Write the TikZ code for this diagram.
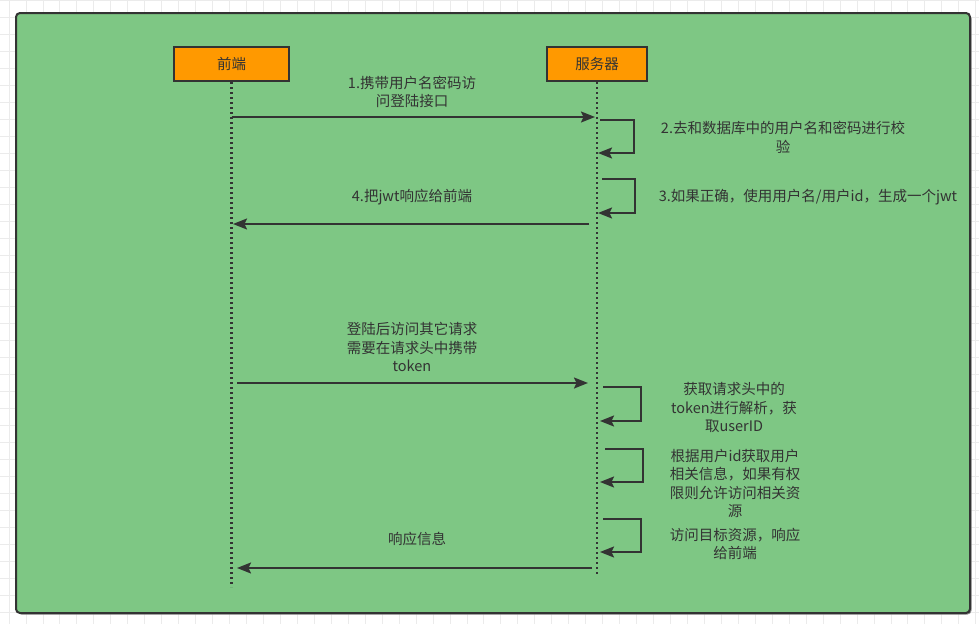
\documentclass[tikz,border=0pt]{standalone}
\usepackage{fontspec}
\setmainfont{Noto Sans CJK SC}
\usetikzlibrary{arrows.meta}
\definecolor{bggreen}{HTML}{7EC784}
\definecolor{orng}{HTML}{FF9900}
\definecolor{ink}{HTML}{333333}
\definecolor{gridc}{HTML}{EBEBEB}
\begin{document}
\begin{tikzpicture}[x=1pt,y=-1pt,
  font=\fontsize{14.5}{18.5}\selectfont,
  actor/.style={draw=ink, fill=orng, line width=2pt, minimum height=34pt, inner sep=0pt, text=ink},
  lifeline/.style={draw=ink, line width=2.2pt, dash pattern=on 2pt off 3pt},
  msg/.style={draw=ink, line width=1.9pt, -{Stealth[length=14pt,width=11pt,inset=2.5pt]}},
  lbl/.style={align=center, text=ink, inner sep=0pt}]
\useasboundingbox (0,0) rectangle (979,624);
% background grid
\foreach \i in {0,...,57} \draw[gridc, line width=0.8pt] ({9+16.96*\i},0) -- ({9+16.96*\i},624);
\foreach \j in {0,...,36} \draw[gridc, line width=0.8pt] (0,{17*\j}) -- (979,{17*\j});
% container
\fill[black!45, rounded corners=4pt] (17.5,14.5) rectangle (971.5,614.5);
\draw[fill=bggreen, draw=ink, line width=2pt, rounded corners=4pt] (16,13) rectangle (970,613);
% actors
\node[actor, minimum width=115pt] (fe) at (231.5,64) {前端};
\node[actor, minimum width=100pt] (sv) at (597,64) {服务器};
\coordinate (feEnd) at (231.5,587);
\coordinate (svEnd) at (597,575);
\draw[lifeline] (fe.south) -- (feEnd);
\draw[lifeline] (sv.south) -- (svEnd);
% message 1
\coordinate (m1a) at (231.5,117); \coordinate (m1b) at (595,117);
\draw[msg] (m1a) -- (m1b);
\node[lbl] (t1) at (412,92) {1.携带用户名密码访\\问登陆接口};
% self loop 2
\coordinate (s1a) at (600,120); \coordinate (s1b) at (598,153);
\draw[msg] (s1a) -- (634,120) -- (634,153) -- (s1b);
\node[lbl] (t2) at (783,137.5) {2.去和数据库中的用户名和密码进行校\\验};
% self loop 3
\coordinate (s2a) at (602,179); \coordinate (s2b) at (598,213);
\draw[msg] (s2a) -- (635,179) -- (635,213) -- (s2b);
\node[lbl] (t3) at (808,197) {3.如果正确，使用用户名/用户id，生成一个jwt};
% message 4
\coordinate (m4a) at (589,224); \coordinate (m4b) at (233,224);
\draw[msg] (m4a) -- (m4b);
\node[lbl] (t4) at (412,197) {4.把jwt响应给前端};
% token request
\coordinate (m5a) at (237,383); \coordinate (m5b) at (588,383);
\draw[msg] (m5a) -- (m5b);
\node[lbl] (t5) at (412,347) {登陆后访问其它请求\\需要在请求头中携带\\token};
% self loops
\coordinate (s3a) at (603,387); \coordinate (s3b) at (600,421);
\draw[msg] (s3a) -- (641,387) -- (641,421) -- (s3b);
\node[lbl] (t6) at (734,407.5) {获取请求头中的\\token进行解析，获\\取userID};
\coordinate (s4a) at (605,449); \coordinate (s4b) at (600,482);
\draw[msg] (s4a) -- (643,449) -- (643,482) -- (s4b);
\node[lbl] (t7) at (735,483.5) {根据用户id获取用户\\相关信息，如果有权\\限则允许访问相关资\\源};
\coordinate (s5a) at (603,519); \coordinate (s5b) at (600,552);
\draw[msg] (s5a) -- (641,519) -- (641,552) -- (s5b);
\node[lbl] (t8) at (735,544) {访问目标资源，响应\\给前端};
% response
\coordinate (m6a) at (592,568); \coordinate (m6b) at (237,568);
\draw[msg] (m6a) -- (m6b);
\node[lbl] (t9) at (417,539) {响应信息};
\end{tikzpicture}
\end{document}
